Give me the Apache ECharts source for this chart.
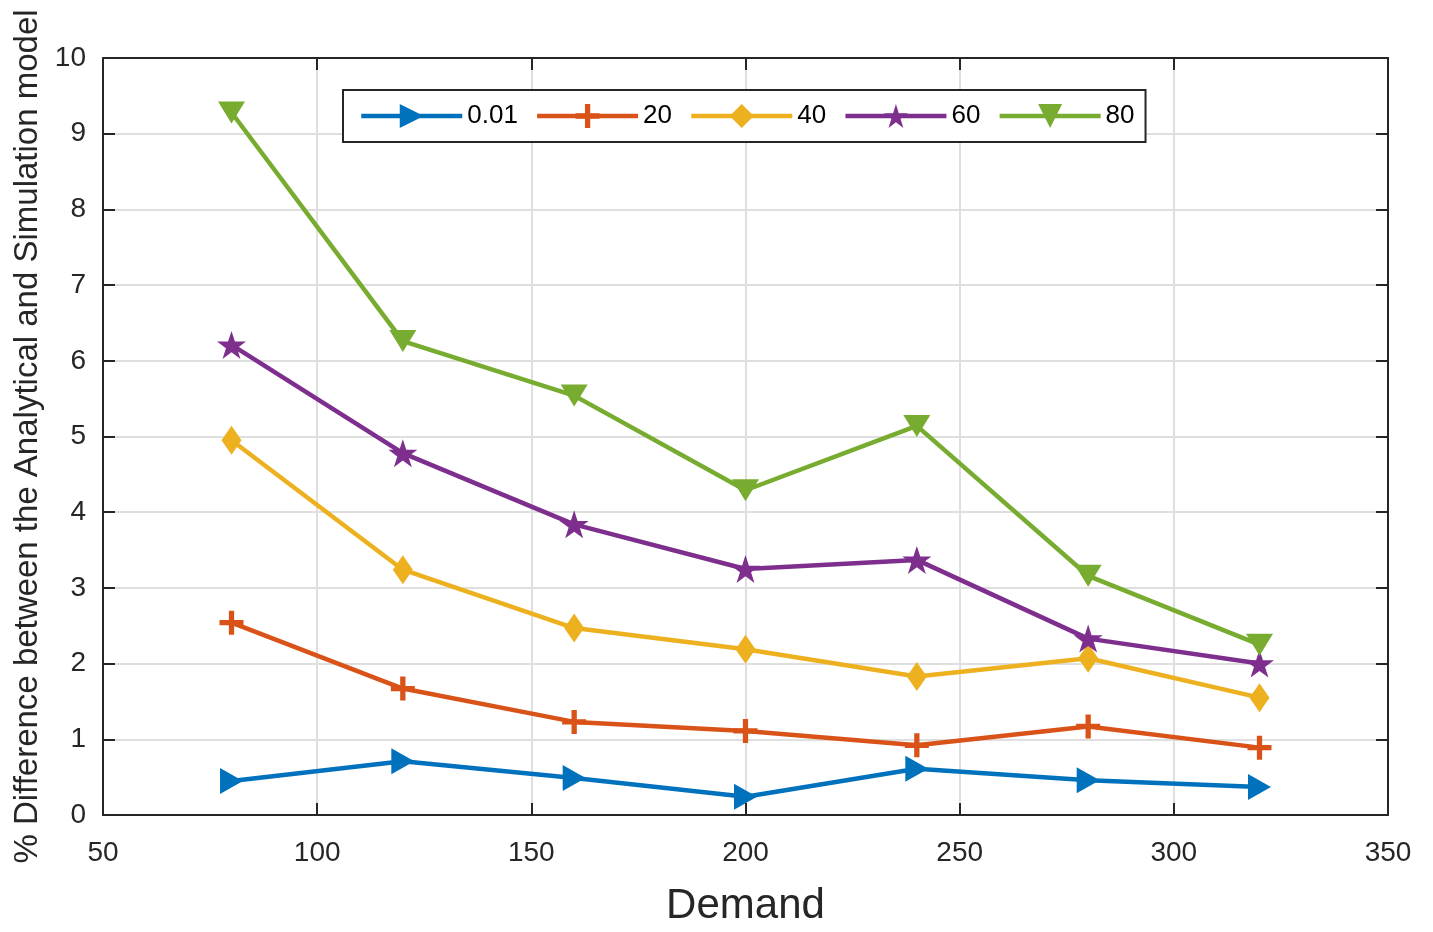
<!DOCTYPE html>
<html>
<head>
<meta charset="utf-8">
<style>
  html, body { margin: 0; padding: 0; background: #ffffff; }
  #chart { width: 1433px; height: 932px; }
</style>
<script src="https://cdn.jsdelivr.net/npm/echarts@6/dist/echarts.min.js"></script>
</head>
<body>
<div id="chart"></div>
<script>
// ---- data ----
const demand = [80, 120, 160, 200, 240, 280, 320];
const seriesNames = ['0.01', '20', '40', '60', '80'];
const s001 = [0.45, 0.71, 0.49, 0.24, 0.61, 0.46, 0.37];
const s20  = [2.54, 1.67, 1.23, 1.11, 0.92, 1.17, 0.89];
const s40  = [4.95, 3.24, 2.47, 2.19, 1.83, 2.07, 1.55];
const s60  = [6.21, 4.78, 3.84, 3.25, 3.37, 2.33, 2.00];
const s80  = [9.28, 6.26, 5.54, 4.29, 5.14, 3.16, 2.25];
const xTicks = [50, 100, 150, 200, 250, 300, 350];
const yTicks = [0, 1, 2, 3, 4, 5, 6, 7, 8, 9, 10];

const colors = ['#0072BD', '#D95319', '#EDB120', '#7E2F8E', '#77AC30'];
const FONT = '"Liberation Sans", Arial, Helvetica, sans-serif';
const AX = '#262626';

const symRight = 'path://M0,0 L10,5 L0,10 Z';
const symDown = 'path://M0,0 L10,0 L5,10 Z';
const symPlus = 'path://M-1.1,-5 L1.1,-5 L1.1,-1.1 L5,-1.1 L5,1.1 L1.1,1.1 L1.1,5 L-1.1,5 L-1.1,1.1 L-5,1.1 L-5,-1.1 L-1.1,-1.1 Z';
const symStar = 'path://M50,0 L61.23,34.55 L97.55,34.55 L68.17,55.9 L79.39,90.45 L50,69.1 L20.61,90.45 L31.83,55.9 L2.45,34.55 L38.77,34.55 Z';

const symbols = [symRight, symPlus, 'diamond', symStar, symDown];
const sizes = [[23, 26], [24, 24], [20, 29], [29, 28], [27, 22]];
const values = [s001, s20, s40, s60, s80];

function pairs(arr) { return demand.map((d, i) => [d, arr[i]]); }

const series = values.map((v, i) => ({
  name: seriesNames[i],
  type: 'line',
  xAxisIndex: 0,
  yAxisIndex: 0,
  data: pairs(v),
  symbol: symbols[i],
  symbolSize: sizes[i],
  showAllSymbol: true,
  lineStyle: { color: colors[i], width: 4.5 },
  itemStyle: { color: colors[i], borderWidth: 0 },
  emphasis: { disabled: true },
  animation: false,
  z: 3 + i
}));

const chart = echarts.init(document.getElementById('chart'), null, { renderer: 'canvas' });
chart.setOption({
  animation: false,
  color: colors,
  textStyle: { fontFamily: FONT },
  grid: { left: 103, right: 45, top: 58, bottom: 111, containLabel: false },
  legend: {
    data: seriesNames,
    left: 343, top: 90,
    orient: 'horizontal',
    itemWidth: 101, itemHeight: 30, itemGap: 17,
    padding: [13, 11, 13, 16],
    backgroundColor: '#ffffff',
    borderColor: AX, borderWidth: 2,
    lineStyle: { width: 4.5 },
    textStyle: { fontSize: 26, color: '#000000', fontFamily: FONT },
    selectedMode: false
  },
  xAxis: [{
    type: 'value', min: 50, max: 350, interval: 50, position: 'bottom',
    name: 'Demand', nameLocation: 'middle', nameGap: 70,
    nameTextStyle: { fontSize: 42, color: AX, fontFamily: FONT },
    axisLine: { show: true, onZero: false, lineStyle: { color: AX, width: 2 } },
    axisTick: { show: true, inside: true, length: 12, lineStyle: { color: AX, width: 2 } },
    axisLabel: { fontSize: 28, color: AX, margin: 24, fontFamily: FONT },
    splitLine: { show: true, lineStyle: { color: '#dfdfdf', width: 2 } }
  }, {
    type: 'value', min: 50, max: 350, interval: 50, position: 'top',
    axisLine: { show: true, onZero: false, lineStyle: { color: AX, width: 2 } },
    axisTick: { show: true, inside: true, length: 12, lineStyle: { color: AX, width: 2 } },
    axisLabel: { show: false },
    splitLine: { show: false }
  }],
  yAxis: [{
    type: 'value', min: 0, max: 10, interval: 1, position: 'left',
    name: '% Difference between the Analytical and Simulation model',
    nameLocation: 'middle', nameGap: 57,
    nameTextStyle: { fontSize: 33, color: AX, fontFamily: FONT },
    axisLine: { show: true, onZero: false, lineStyle: { color: AX, width: 2 } },
    axisTick: { show: true, inside: true, length: 12, lineStyle: { color: AX, width: 2 } },
    axisLabel: { fontSize: 28, color: AX, margin: 17, fontFamily: FONT },
    splitLine: { show: true, lineStyle: { color: '#dfdfdf', width: 2 } }
  }, {
    type: 'value', min: 0, max: 10, interval: 1, position: 'right',
    axisLine: { show: true, onZero: false, lineStyle: { color: AX, width: 2 } },
    axisTick: { show: true, inside: true, length: 12, lineStyle: { color: AX, width: 2 } },
    axisLabel: { show: false },
    splitLine: { show: false }
  }],
  series: series
});
</script>
</body>
</html>
